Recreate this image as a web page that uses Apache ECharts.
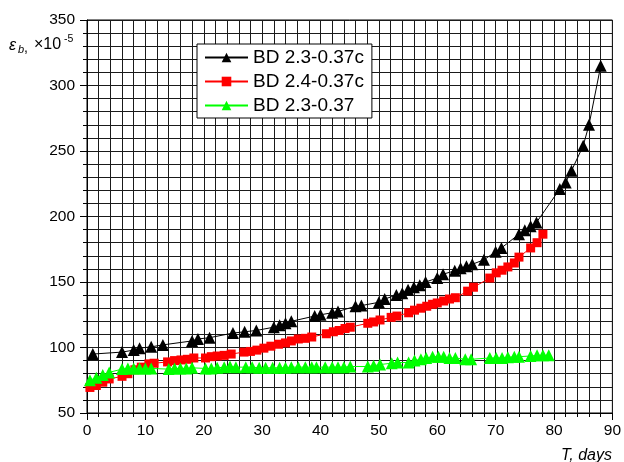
<!DOCTYPE html>
<html>
<head>
<meta charset="utf-8">
<script src="https://cdn.jsdelivr.net/npm/echarts@6/dist/echarts.min.js"></script>
<style>html,body{margin:0;padding:0;background:#fff;}#c{width:624px;height:462px;}</style>
</head>
<body>
<div id="c"></div>
<script>
const seriesNames = ['BD 2.3-0.37c', 'BD 2.4-0.37c', 'BD 2.3-0.37'];
const xTicks = [0, 10, 20, 30, 40, 50, 60, 70, 80, 90];
const yTicks = [50, 100, 150, 200, 250, 300, 350];

const black = [[1,95],[6,96.5],[8,98],[9,99.5],[11,100.5],[13,102],[18,105],[19,106.5],[21,107.5],[25,111],[27,112],[29,113],[32,115.5],[33,117],[34,118.5],[35,120],[39,124],[40,125],[42,126.5],[43,127.5],[46,131.5],[47,132],[50,134.5],[51,137],[53,140],[54,141.5],[55,144],[56,146],[57,147.5],[58,150],[60,153],[61,156],[63,158.5],[64,160.5],[65,162],[66,163.5],[68,167],[70,173],[71,176],[74,186.5],[75,189.5],[76,192.5],[77,195.5],[81,221],[82,226],[83,235],[85,254],[86,270],[88,315]];

const red = [[0.5,69.5],[1.6,71],[2.7,73.5],[3.8,76],[6,78],[7,80],[8.2,83],[9.3,85],[10.6,87.5],[11.5,88],[13.8,89],[15,90],[16.1,90.5],[17.2,91],[18.3,92],[20.3,92],[21.3,93],[22.3,93.5],[23.5,94],[24.7,95],[26.9,96.5],[28,97],[29.1,98],[30.3,99.5],[31.5,101],[32.8,102.5],[34,103.5],[35,105],[36.2,106.5],[37.4,107],[38.5,108],[41,110.5],[42.2,112],[43.2,113],[44.2,114.5],[45.1,115.5],[48.1,118.5],[49.1,119.5],[50.2,121],[52.1,123],[53.1,124],[55.1,126.5],[56.1,128.5],[57.2,130],[58.2,131.5],[59.2,133],[60,134],[61.1,135.5],[62.1,137],[63.1,138],[65.2,143],[66.2,146],[69,153],[70.1,157],[71.1,159],[72.1,161.5],[73.2,164.5],[74,169],[76,176],[77.1,180],[78.1,186.5]];

const green = [[0.5,75],[1.6,77],[2.7,79],[3.8,81],[6,83.5],[7,84],[8,84],[9,84],[10,84],[11,84],[14,83.5],[15,84],[16,84],[17,84],[18,84.5],[20.3,84],[21.3,84],[22.3,84.5],[23.5,85],[24.5,85.5],[25.5,85],[27.2,85],[28.3,85],[29.5,84.5],[30.6,84.5],[31.8,84.5],[33,84.5],[34,84.5],[35,85],[36.2,85],[37.4,85],[38.5,85],[39.3,85],[40.8,85],[42,85],[43,85],[44,85],[45.1,85.5],[48.1,85.5],[49.1,86],[50.2,87],[52.2,88],[53.2,88.5],[55.1,88.5],[56.1,90],[57.2,91],[58.1,92],[59.2,93],[60.2,93],[61.1,93],[62.1,92],[63.1,92],[64.8,91],[65.8,91],[69,92],[70.1,92],[71.1,92],[72.1,92.5],[73.2,93],[74,93],[76,93.5],[77.1,94],[78.1,94],[79.1,94]];

const FONT = 'Liberation Sans, Arial, sans-serif';
const chart = echarts.init(document.getElementById('c'), null, {renderer: 'canvas'});

function mkSeries(name, data, color, symbol, size) {
  return {
    name: name, type: 'line', data: data,
    symbol: symbol, symbolSize: size,
    lineStyle: {color: color, width: 1},
    itemStyle: {color: color},
    emphasis: {disabled: true},
    animation: false
  };
}

chart.setOption({
  animation: false,
  backgroundColor: '#fff',
  grid: {left: 87, right: 8, top: 20, bottom: 49, show: true, borderColor: '#000', borderWidth: 1},
  xAxis: {
    type: 'value', min: xTicks[0], max: xTicks[xTicks.length - 1], interval: 10,
    axisLine: {show: true, lineStyle: {color: '#000', width: 1}},
    axisTick: {show: true, length: 7, inside: false, lineStyle: {color: '#000'}},
    minorTick: {show: true, splitNumber: 5, length: 4, lineStyle: {color: '#000'}},
    splitLine: {show: true, lineStyle: {color: '#1a1a1a', width: 1}},
    minorSplitLine: {show: true, lineStyle: {color: '#1a1a1a', width: 1}},
    axisLabel: {color: '#000', fontSize: 15.5, fontFamily: FONT, margin: 10, showMaxLabel: true}
  },
  yAxis: {
    type: 'value', min: yTicks[0], max: yTicks[yTicks.length - 1], interval: 50,
    axisLine: {show: true, lineStyle: {color: '#000', width: 1}},
    axisTick: {show: true, length: 7, lineStyle: {color: '#000'}},
    minorTick: {show: true, splitNumber: 5, length: 4, lineStyle: {color: '#000'}},
    splitLine: {show: true, lineStyle: {color: '#1a1a1a', width: 1}},
    minorSplitLine: {show: true, lineStyle: {color: '#1a1a1a', width: 1}},
    axisLabel: {color: '#000', fontSize: 15.5, fontFamily: FONT, margin: 12}
  },
  legend: {
    show: true, orient: 'vertical', left: 197, top: 44,
    data: seriesNames,
    backgroundColor: '#fff', borderColor: '#000', borderWidth: 1,
    padding: [4, 8, 3, 7], itemGap: 5, itemWidth: 43, itemHeight: 12,
    textStyle: {color: '#000', fontSize: 19, fontFamily: FONT, padding: [0, 0, 0, 0]}
  },
  series: [
    mkSeries(seriesNames[0], black, '#000000', 'triangle', 12),
    mkSeries(seriesNames[1], red, '#ff0000', 'rect', 9),
    mkSeries(seriesNames[2], green, '#00ff00', 'triangle', 12)
  ],
  graphic: [
    {type: 'text', x: 9, y: 45.5, style: {text: 'ε', font: 'italic 16px ' + FONT, fill: '#000', verticalAlign: 'middle'}},
    {type: 'text', x: 18, y: 49.5, style: {text: 'b', font: 'italic 11px ' + FONT, fill: '#000', verticalAlign: 'middle'}},
    {type: 'text', x: 24, y: 48.5, style: {text: ',', font: '14px ' + FONT, fill: '#000', verticalAlign: 'middle'}},
    {type: 'text', x: 34, y: 44.5, style: {text: '×10', font: '16px ' + FONT, fill: '#000', verticalAlign: 'middle'}},
    {type: 'text', x: 64, y: 39, style: {text: '-5', font: '10.5px ' + FONT, fill: '#000', verticalAlign: 'middle'}},
    {type: 'text', x: 612, y: 456, style: {text: 'T, days', font: 'italic 16px ' + FONT, fill: '#000', align: 'right', verticalAlign: 'middle'}}
  ]
});
</script>
</body>
</html>
